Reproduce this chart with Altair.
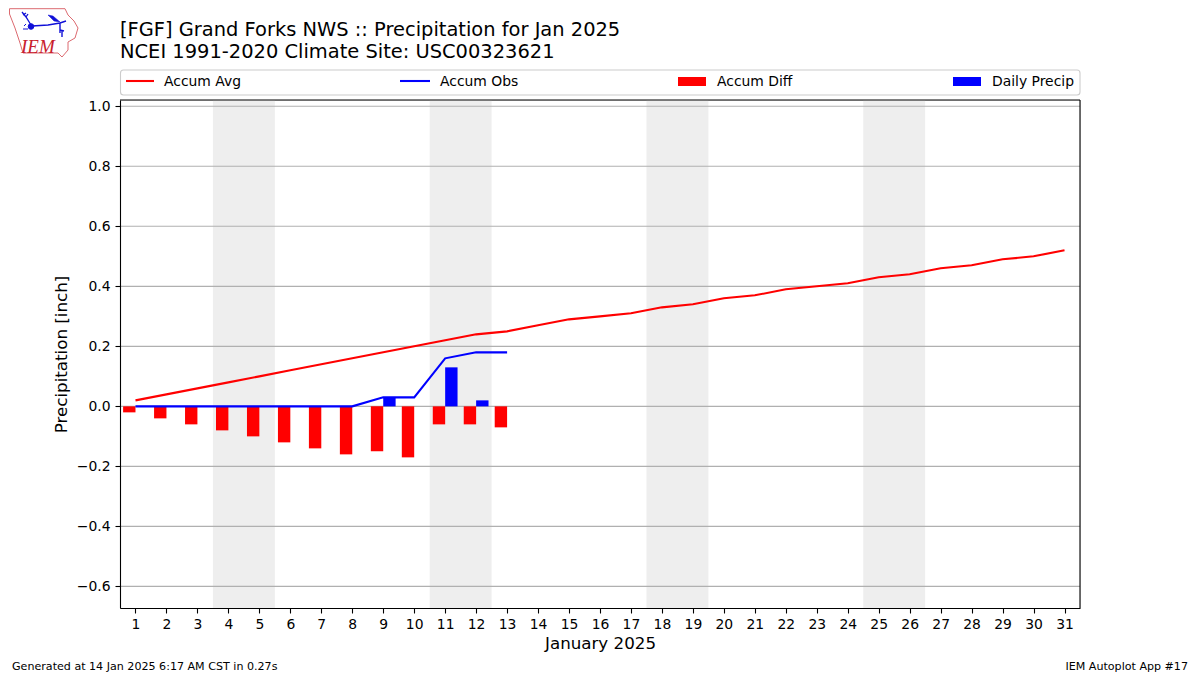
import urllib.parse
import altair as alt
import pandas as pd

days = list(range(1, 32))
accum_avg = [0.02, 0.04, 0.06, 0.08, 0.10, 0.12, 0.14, 0.16, 0.18, 0.20, 0.22, 0.24, 0.25, 0.27, 0.29, 0.30,
             0.31, 0.33, 0.34, 0.36, 0.37, 0.39, 0.40, 0.41, 0.43, 0.44, 0.46, 0.47, 0.49, 0.50, 0.52]
obs_days = list(range(1, 14))
accum_obs = [0, 0, 0, 0, 0, 0, 0, 0, 0.03, 0.03, 0.16, 0.18, 0.18]
accum_diff = [-0.02, -0.04, -0.06, -0.08, -0.10, -0.12, -0.14, -0.16, -0.15, -0.17, -0.06, -0.06, -0.07]
precip_days = [9, 11, 12]
daily_precip = [0.03, 0.13, 0.02]
weekend_start = [3.5, 10.5, 17.5, 24.5]
weekend_end = [5.5, 12.5, 19.5, 26.5]
y_ticks = [-0.6, -0.4, -0.2, 0.0, 0.2, 0.4, 0.6, 0.8, 1.0]
BAR = 0.4
FONT = "DejaVu Sans"

xs = alt.Scale(domain=[0.5, 31.5], nice=False, zero=False)
ys = alt.Scale(domain=[-0.672, 1.021], nice=False, zero=False)

avg_df = pd.DataFrame({"day": days, "v": accum_avg})
obs_df = pd.DataFrame({"day": obs_days, "v": accum_obs})
diff_df = pd.DataFrame({"x0": [d - BAR for d in obs_days], "x1": obs_days, "v": accum_diff, "z": [0] * 13})
prec_df = pd.DataFrame({"x0": precip_days, "x1": [d + BAR for d in precip_days], "v": daily_precip, "z": [0] * 3})
band_df = pd.DataFrame({"a": weekend_start, "b": weekend_end})
grid_df = pd.DataFrame({"y": y_ticks})

AX = alt.Axis(
    values=days, format="d", title="January 2025", grid=False, labelFont=FONT, labelFontSize=13.9,
    titleFont=FONT, titleFontSize=16.7, titleFontWeight="normal", titleColor="black", labelColor="black",
    domainColor="black", tickColor="black", domainWidth=1.1, tickWidth=1.1, tickSize=5, labelPadding=4,
    titlePadding=5, labelOverlap=False, labelFlush=False, zindex=1)
AY = alt.Axis(
    values=y_ticks, format=".1f", title="Precipitation [inch]", grid=False, labelFont=FONT, labelFontSize=13.9,
    titleFont=FONT, titleFontSize=16.7, titleFontWeight="normal", titleColor="black", labelColor="black",
    domainColor="black", tickColor="black", domainWidth=1.1, tickWidth=1.1, tickSize=5, labelPadding=5,
    titlePadding=6, labelOverlap=False, labelFlush=False, zindex=1)

bands = alt.Chart(band_df).mark_rect(color="#eeeeee").encode(
    x=alt.X("a:Q", scale=xs, axis=AX), x2="b:Q")
grid = alt.Chart(grid_df).mark_rule(color="#b0b0b0", strokeWidth=1.1).encode(
    y=alt.Y("y:Q", scale=ys, axis=AY))
diff_bars = alt.Chart(diff_df).mark_rect(color="#ff0000").encode(
    x=alt.X("x0:Q", scale=xs, axis=AX), x2="x1:Q", y=alt.Y("v:Q", scale=ys, axis=AY), y2="z:Q")
prec_bars = alt.Chart(prec_df).mark_rect(color="#0000ff").encode(
    x=alt.X("x0:Q", scale=xs, axis=AX), x2="x1:Q", y=alt.Y("v:Q", scale=ys, axis=AY), y2="z:Q")
avg_line = alt.Chart(avg_df).mark_line(color="#ff0000", strokeWidth=2.08).encode(
    x=alt.X("day:Q", scale=xs, axis=AX), y=alt.Y("v:Q", scale=ys, axis=AY))
obs_line = alt.Chart(obs_df).mark_line(color="#0000ff", strokeWidth=2.08).encode(
    x=alt.X("day:Q", scale=xs, axis=AX), y=alt.Y("v:Q", scale=ys, axis=AY))

one = pd.DataFrame({"a": [0]})


def rule(x, x2, y, y2, color="black", w=1.1):
    return alt.Chart(one).mark_rule(color=color, strokeWidth=w).encode(
        x=alt.value(x), x2=alt.value(x2), y=alt.value(y), y2=alt.value(y2))


def box(x, x2, y, y2, **kw):
    return alt.Chart(one).mark_rect(**kw).encode(
        x=alt.value(x), x2=alt.value(x2), y=alt.value(y), y2=alt.value(y2))


def text(s, x, y, size, align="left", color="black", **kw):
    return alt.Chart(one).mark_text(text=s, align=align, baseline="alphabetic", font=FONT, fontSize=size,
                                    color=color, **kw).encode(x=alt.value(x), y=alt.value(y))


frame = [rule(0, 960, 0, 0), rule(960, 960, 0, 508)]

legend_box = box(0.5, 960, -30, -5, fill="white", stroke="#cccccc", strokeWidth=1.1, cornerRadius=3)
legend = [
    legend_box,
    rule(6, 34, -19, -19, "#ff0000", 2.08), text("Accum Avg", 44, -14, 13.9),
    rule(280, 310, -19, -19, "#0000ff", 2.08), text("Accum Obs", 320, -14, 13.9),
    box(558, 586, -23, -14, fill="#ff0000"), text("Accum Diff", 597, -14, 13.9),
    box(833, 861, -23, -14, fill="#0000ff"), text("Daily Precip", 872, -14, 13.9),
]
titles = [
    text("[FGF] Grand Forks NWS :: Precipitation for Jan 2025", 0, -64, 19.44),
    text("NCEI 1991-2020 Climate Site: USC00323621", 0, -42, 19.44),
    text("Generated at 14 Jan 2025 6:17 AM CST in 0.27s", -108, 570, 11.1),
    text("IEM Autoplot App #17", 1068, 570, 11.1, align="right"),
]

logo_svg = (
    "<svg xmlns='http://www.w3.org/2000/svg' width='72' height='52' viewBox='8 8 72 52'>"
    "<path d='M9.5 8.7 L65 8.7 L68 15 L74 21 L78 28 L75 38 L68 42 L68 50 L62 57 L58 53 L23 53 L20 43 "
    "L15 28 L9.5 14 Z' fill='white' stroke='#dc6a70' stroke-width='1'/>"
    "<g stroke='#1010d8' fill='none'>"
    "<path d='M32 26 L48 25 L60 23 L66 21 M60 23 V33 M60 30 L64 31 M62 31 L62 37' stroke-width='1.4'/>"
    "<path d='M31 25 L26 17 L22 12 M26 17 L28 14 M23 15 L26 13' stroke-width='1.3'/>"
    "<path d='M48 15 L53 16 L60 22 L54 21 Z' fill='#1010d8' stroke-width='0.5'/>"
    "<circle cx='31' cy='26.5' r='2.8' fill='#1010d8'/>"
    "<path d='M24 26 L26 24 M23 29 L28 29' stroke-width='1'/>"
    "</g></svg>"
)
logo = alt.Chart(one).mark_image(
    url="data:image/svg+xml," + urllib.parse.quote(logo_svg), width=72, height=52, align="left", baseline="top"
).encode(x=alt.value(-112), y=alt.value(-92))
logo_text = alt.Chart(one).mark_text(
    text="IEM", align="left", baseline="alphabetic", font="Liberation Serif", fontSize=19, fontStyle="italic",
    color="#c8202c").encode(x=alt.value(-99), y=alt.value(-47))

chart = alt.layer(
    bands, grid, diff_bars, prec_bars, avg_line, obs_line, *frame, *legend, *titles, logo, logo_text
).properties(
    width=960, height=508,
    autosize=alt.AutoSizeParams(type="none"),
    padding={"left": 112, "top": 92, "right": 112, "bottom": 67},
).configure_view(stroke=None).configure(background="white")

chart.save("out.html", embed_options={"renderer": "svg", "actions": False})
